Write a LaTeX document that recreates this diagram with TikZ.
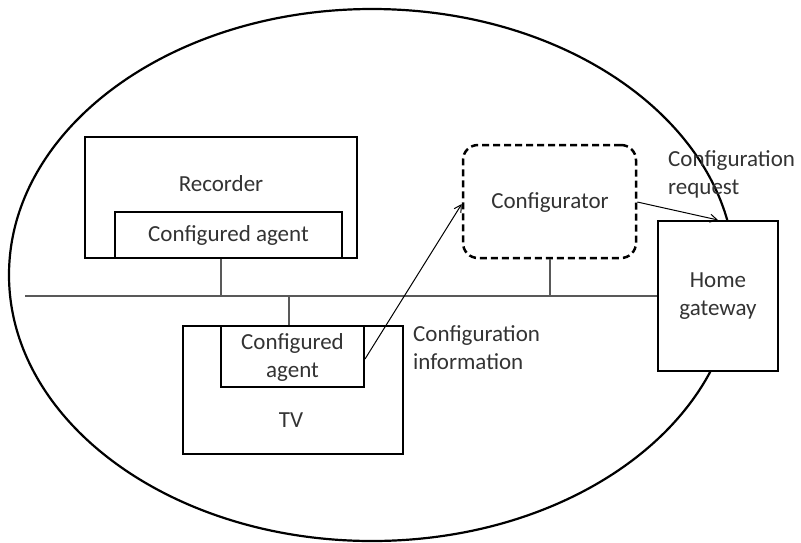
\documentclass[tikz,border=0pt]{standalone}
\usepackage{fontspec}
\setmainfont{Carlito}
\usetikzlibrary{arrows.meta}
\begin{document}
\begin{tikzpicture}[x=1pt,y=-1pt,
  box/.style={draw=black,line width=2pt,fill=white,inner sep=0pt},
  txt/.style={text=black!80,font=\fontsize{23}{28}\selectfont,inner sep=0pt,align=center},
  bus/.style={draw=black!65,line width=1.2pt},
  arr/.style={draw=black,line width=1pt,-{Straight Barb[length=7pt,width=8pt]}}]
\useasboundingbox (0,0) rectangle (801,542);
\draw[line width=2.2pt] (372,275) ellipse [x radius=363, y radius=266];
% recorder
\node[box,minimum width=272,minimum height=121] (rec) at (221,197.5) {};
\node[txt] (rectxt) at (221,184) {Recorder};
\node[box,minimum width=227,minimum height=46] (recag) at (228.5,235) {};
\node[txt] (recagtxt) at (228.5,235) {Configured agent};
% TV
\node[box,minimum width=220,minimum height=128] (tv) at (293,390) {};
\node[txt] (tvtxt) at (291,420) {TV};
\node[box,minimum width=143,minimum height=61] (tvag) at (292.5,356.5) {};
\node[txt] (tvagtxt) at (292.5,357) {Configured\\agent};
% configurator
\node[box,dash pattern=on 7pt off 4pt,line width=2.5pt,rounded corners=15pt,minimum width=173,minimum height=113] (conf) at (549.5,201.5) {};
\node[txt] (conftxt) at (550,203) {Configurator};
% home gateway
\node[box,minimum width=120,minimum height=150] (hg) at (718,296) {};
\node[txt] (hgtxt) at (718,296) {Home\\gateway};
% bus
\coordinate (busL) at (25,296);
\draw[bus] (busL) -- (hg.west);
\coordinate (b1) at (221,296);
\coordinate (b2) at (289,296);
\coordinate (b3) at (550,296);
\draw[bus] (rec.south -| b1) -- (b1);
\draw[bus] (b2) -- (tv.north -| b2);
\draw[bus] (conf.south -| b3) -- (b3);
% arrows
\draw[arr] ([yshift=-2.5pt]tvag.east) -- ([yshift=-2.5pt]conf.west);
\draw[arr] ([yshift=-0.5pt]conf.east) -- (hg.north);
% labels
\node[txt,align=left,anchor=west] (reqlbl) at (668,174.5) {Configuration\\request};
\node[txt,align=left,anchor=west] (infolbl) at (413,348) {Configuration\\information};
\end{tikzpicture}
\end{document}
